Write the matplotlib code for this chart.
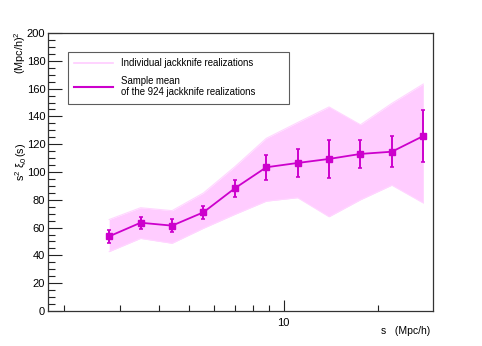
import numpy as np
import matplotlib.pyplot as plt
from matplotlib.lines import Line2D
from matplotlib.ticker import FixedLocator, NullFormatter, FixedFormatter

plt.rcParams['font.family'] = ['Liberation Sans', 'DejaVu Sans']
plt.rcParams['mathtext.fontset'] = 'custom'
plt.rcParams['mathtext.rm'] = 'Liberation Sans'
plt.rcParams['mathtext.it'] = 'Liberation Sans:italic'

# values
s = [2.78, 3.50, 4.41, 5.55, 6.99, 8.80, 11.08, 13.95, 17.56, 22.11, 27.84]
mean = [53.7, 63.5, 61.4, 71.0, 88.3, 103.4, 106.5, 109.4, 113.0, 114.6, 125.9]
err = [4.8, 4.4, 4.5, 4.8, 6.2, 8.8, 9.8, 13.9, 10.3, 11.2, 18.9]
band_lo = [42.7, 52.2, 48.7, 59.5, 69.5, 79.0, 81.5, 67.8, 80.0, 90.5, 77.7]
band_hi = [65.8, 74.3, 72.2, 84.9, 103.8, 124.2, 135.6, 146.8, 134.0, 149.4, 163.3]

pink = '#ffccff'
mag = '#cc00cc'

fig = plt.figure(figsize=(4.82, 3.46), dpi=100)
ax = fig.add_axes([0.0996, 0.1012, 0.7988, 0.8034])

ax.fill_between(s, band_lo, band_hi, color=pink, lw=0, zorder=1)
ax.plot(s, band_lo, color='#ffd6ff', lw=0.8, zorder=1)
ax.plot(s, band_hi, color='#ffd6ff', lw=0.8, zorder=1)

ax.errorbar(s, mean, yerr=err, color=mag, lw=1.3, marker='s', ms=4.5,
            elinewidth=1.4, capsize=1.5, capthick=1.2, zorder=3)

ax.set_xscale('log')
ax.set_xlim(1.775, 29.9)
ax.set_ylim(0, 200)

ax.xaxis.set_major_locator(FixedLocator([10]))
ax.xaxis.set_major_formatter(FixedFormatter(['10']))
ax.xaxis.set_minor_locator(FixedLocator([2, 3, 4, 5, 6, 7, 8, 9, 20]))
ax.xaxis.set_minor_formatter(NullFormatter())
ax.set_yticks(np.arange(0, 201, 20))
ax.set_yticks(np.arange(0, 201, 5), minor=True)

ax.tick_params(which='both', direction='in', top=False, right=False,
               labelsize=8, width=0.8, color='#222222', pad=2)
ax.tick_params(axis='y', which='major', length=10)
ax.tick_params(axis='y', which='minor', length=5)
ax.tick_params(axis='x', which='major', length=8, pad=5)
ax.tick_params(axis='x', which='minor', length=4.5)
for sp in ax.spines.values():
    sp.set_linewidth(0.9)
    sp.set_color('#333333')

handles = [Line2D([], [], color=pink, lw=1.2),
           Line2D([], [], color=mag, lw=1.5)]
labels = ['Individual jackknife realizations',
          'Sample mean\nof the 924 jackknife realizations']
leg = ax.legend(handles, labels, loc='upper left',
                bbox_to_anchor=(0.051, 0.933, 0.575, 0.0), mode='expand',
                borderaxespad=0, fontsize=6.9, frameon=True, fancybox=False,
                edgecolor='#333333', handlelength=4.0, handletextpad=0.9,
                borderpad=0.7, labelspacing=0.75)
leg.get_frame().set_linewidth(0.8)
leg.get_frame().set_facecolor('white')

fig.text(0.042, 0.532, r'$\mathrm{s^{2}\ \xi_{0}\,(s)}$', rotation=90,
         ha='center', va='center', fontsize=7.8)
fig.text(0.042, 0.848, r'$\mathrm{(Mpc/h)^{2}}$', rotation=90,
         ha='center', va='center', fontsize=7.8)
fig.text(0.893, 0.044, 's   (Mpc/h)', ha='right', va='center', fontsize=7.5)

fig.savefig('out.png', dpi=100)
